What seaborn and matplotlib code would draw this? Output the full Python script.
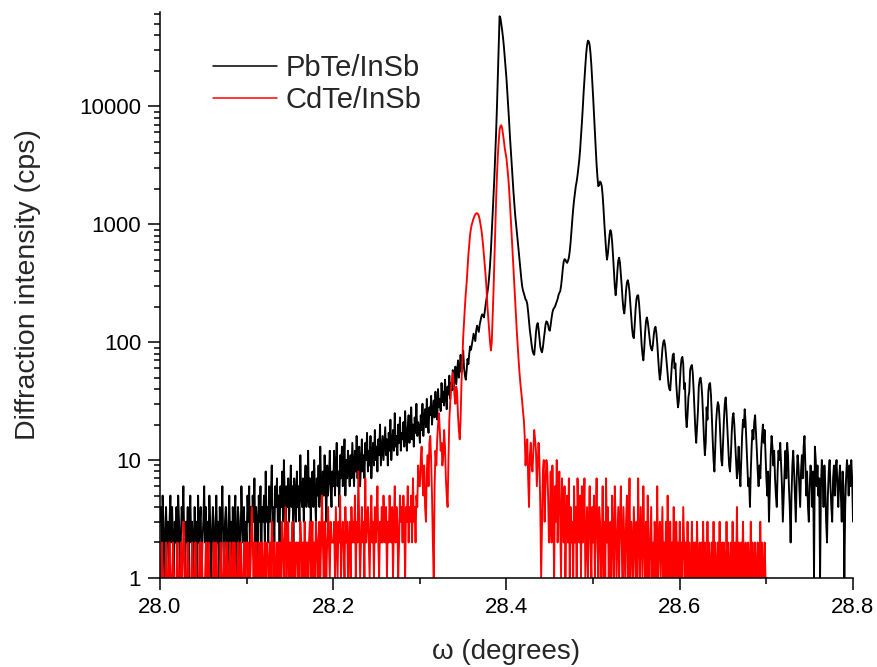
import numpy as np
import pandas as pd
import matplotlib
matplotlib.use("Agg")
import matplotlib.pyplot as plt
from matplotlib.ticker import FixedLocator, FuncFormatter, LogLocator, MultipleLocator, NullFormatter
import seaborn as sns

# omega scan: 28.000 deg onwards, 0.001 deg per step
OMEGA_START = 28.0
OMEGA_STEP = 0.001

series_names = ["PbTe/InSb", "CdTe/InSb"]
series_colors = ["black", "red"]

# PbTe/InSb counts, 28.000 .. 28.800
pbte_counts = [
    # 28.000 - 28.099
    3, 4, 2, 5, 3, 1, 2, 4, 2, 3, 1, 3, 5, 2, 4, 2, 1, 3, 2, 4,
    2, 5, 3, 1, 2, 4, 3, 6, 2, 1, 3, 2, 4, 1, 3, 5, 2, 3, 1, 2,
    4, 2, 3, 1, 5, 2, 3, 4, 1, 2, 3, 6, 2, 4, 1, 3, 2, 5, 3, 1,
    2, 4, 3, 1, 2, 5, 2, 3, 1, 4, 2, 3, 6, 2, 1, 3, 4, 2, 1, 3,
    5, 2, 3, 1, 4, 2, 3, 5, 1, 2, 4, 3, 1, 2, 6, 3, 2, 4, 1, 3,
    # 28.100 - 28.199
    2, 5, 3, 6, 1, 4, 2, 5, 3, 7, 2, 4, 3, 1, 5, 3, 6, 2, 4, 3,
    5, 2, 8, 3, 4, 2, 6, 3, 5, 9, 3, 4, 2, 6, 4, 7, 3, 5, 2, 6,
    4, 8, 3, 10, 5, 2, 6, 4, 7, 3, 5, 9, 4, 6, 2, 7, 5, 3, 8, 4,
    6, 3, 11, 5, 4, 7, 3, 6, 9, 4, 5, 12, 4, 7, 3, 6, 8, 4, 10, 5,
    3, 7, 5, 9, 4, 13, 6, 4, 8, 5, 11, 6, 3, 9, 5, 7, 12, 6, 4, 8,
    # 28.200 - 28.299
    6, 12, 5, 9, 14, 6, 8, 4, 11, 7, 13, 6, 9, 15, 5, 10, 7, 12, 8, 6,
    11, 7, 14, 9, 6, 12, 8, 16, 7, 10, 13, 6, 9, 15, 8, 11, 7, 14, 10, 17,
    8, 12, 9, 16, 7, 11, 14, 9, 18, 10, 13, 8, 15, 11, 20, 9, 12, 16, 10, 14,
    19, 11, 15, 9, 17, 12, 22, 10, 14, 18, 12, 25, 13, 16, 11, 20, 14, 23, 12, 17,
    15, 21, 13, 26, 16, 12, 19, 24, 14, 18, 28, 15, 20, 13, 23, 17, 30, 16, 21, 19,
    # 28.300 - 28.359
    14, 24, 18, 30, 16, 22, 27, 19, 33, 21, 17, 28, 24, 35, 20, 26, 32, 23, 38, 25,
    22, 40, 28, 33, 26, 45, 31, 38, 29, 48, 35, 27, 42, 36, 52, 33, 45, 39, 58, 40,
    48, 62, 44, 55, 70, 50, 60, 78, 56, 66, 85, 60, 52, 48, 58, 72, 65, 80, 92, 86,
    # 28.360 - 28.399 (main reflection)
    95, 105, 118, 110, 102, 125, 138, 130, 122, 140,
    152, 165, 172, 168, 162, 185, 210, 235, 265, 300,
    360, 450, 600, 850, 1200, 1700, 2500, 3800, 6000, 10000,
    18000, 34000, 58000, 56000, 50000, 44000, 38000, 32000, 26000, 21000,
    # 28.400 - 28.507
    17000, 13000, 10000, 7500, 5500, 4200, 3200, 2500, 1900, 1500,
    1200, 1000, 850, 720, 600, 500, 420, 350, 300, 275,
    260, 245, 230, 225, 210, 180, 150, 125, 110, 95,
    85, 80, 78, 95, 120, 138, 145, 130, 110, 92,
    85, 82, 90, 105, 120, 140, 150, 148, 140, 128,
    125, 140, 160, 178, 190, 195, 200, 210, 220, 232,
    250, 262, 270, 300, 350, 420, 480, 505, 500, 480,
    470, 490, 520, 590, 700, 880, 1100, 1350, 1600, 1850,
    2100, 2300, 2600, 3000, 3500, 4300, 5500, 7200, 9500, 13000,
    17000, 22000, 28000, 33000, 36000, 35500, 33000, 28000, 22000, 16500,
    12000, 8500, 6000, 4400, 3200, 2500, 2100, 2150,
    # 28.508 - 28.650 (thickness fringes)
    2300, 2250, 2100, 1750, 1350, 1000, 780, 600, 500, 560,
    680, 820, 890, 840, 700, 540, 400, 300, 250, 300,
    400, 490, 520, 470, 380, 300, 230, 190, 175, 210,
    275, 320, 335, 310, 265, 210, 165, 130, 112, 108,
    140, 190, 230, 248, 250, 215, 170, 125, 95, 78,
    70, 88, 120, 150, 162, 150, 130, 110, 95, 88,
    85, 95, 115, 130, 135, 120, 98, 75, 58, 48,
    55, 70, 88, 100, 104, 95, 80, 65, 52, 44,
    40, 39, 50, 66, 78, 80, 60, 66, 44, 34,
    28, 32, 44, 60, 72, 75, 66, 40, 45, 24,
    19, 24, 34, 38, 58, 62, 64, 55, 40, 27,
    18, 14, 19, 26, 42, 48, 50, 44, 34, 22,
    15, 11, 14, 28, 22, 38, 44, 45, 36, 24,
    15, 10, 8, 13, 21, 27, 31, 29, 22, 15,
    10, 9, 14,
    # 28.651 - 28.800
    22, 30, 34, 26, 18, 12, 9, 8, 11, 17, 23, 25, 20, 14, 10, 7, 9, 13, 8, 6,
    10, 16, 22, 19, 27, 21, 14, 9, 6, 7, 4, 8, 13, 18, 15, 21, 24, 17, 12, 8,
    6, 9, 7, 12, 16, 20, 14, 18, 11, 7, 5, 8, 3, 6, 11, 16, 13, 9, 12, 7,
    5, 4, 8, 12, 10, 14, 9, 6, 3, 5, 8, 12, 7, 14, 11, 6, 4, 2, 5, 9,
    12, 8, 5, 3, 7, 11, 9, 6, 4, 8, 11, 7, 13, 16, 9, 5, 8, 4, 3, 6,
    9, 7, 4, 8, 1, 13, 10, 6, 9, 5, 7, 1, 6, 10, 7, 4, 9, 6, 3, 2,
    5, 8, 10, 6, 4, 3, 7, 9, 5, 8, 10, 6, 4, 7, 9, 5, 3, 8, 6, 1,
    4, 7, 10, 8, 5, 9, 6, 10, 7, 3,
]

# CdTe/InSb counts, 28.000 .. 28.700
cdte_counts = [
    # 28.000 - 28.099
    1, 1, 2, 1, 1, 1, 1, 2, 1, 1, 1, 2, 1, 1, 1, 2, 1, 1, 1, 1,
    2, 1, 1, 1, 2, 1, 1, 3, 2, 1, 1, 1, 2, 1, 1, 1, 1, 2, 1, 1,
    1, 2, 1, 1, 1, 1, 2, 1, 2, 1, 1, 1, 1, 2, 1, 1, 2, 1, 1, 1,
    1, 1, 2, 1, 1, 2, 1, 1, 1, 1, 2, 1, 1, 1, 2, 1, 1, 2, 1, 1,
    1, 2, 1, 1, 2, 1, 2, 1, 1, 1, 2, 1, 1, 2, 1, 1, 1, 2, 1, 2,
    # 28.100 - 28.199
    2, 1, 2, 1, 1, 2, 4, 2, 1, 2, 1, 2, 1, 1, 2, 1, 2, 1, 2, 1,
    1, 2, 1, 2, 2, 1, 1, 2, 1, 3, 2, 1, 2, 1, 1, 2, 1, 2, 1, 2,
    1, 3, 2, 1, 2, 4, 1, 2, 3, 1, 2, 1, 2, 3, 1, 2, 1, 2, 2, 1,
    2, 1, 3, 2, 1, 2, 1, 3, 1, 2, 2, 1, 2, 3, 1, 2, 3, 1, 2, 1,
    3, 2, 1, 2, 3, 1, 2, 5, 2, 1, 3, 2, 1, 2, 4, 2, 1, 3, 2, 2,
    # 28.200 - 28.299
    2, 3, 1, 4, 2, 1, 3, 2, 5, 1, 2, 3, 2, 1, 4, 2, 3, 1, 2, 3,
    1, 4, 2, 3, 2, 5, 1, 3, 2, 8, 3, 1, 2, 4, 2, 3, 1, 7, 2, 3,
    4, 2, 1, 3, 5, 2, 3, 1, 4, 2, 3, 6, 2, 1, 3, 2, 4, 2, 5, 3,
    2, 4, 1, 3, 2, 5, 3, 2, 4, 1, 3, 6, 2, 4, 3, 1, 2, 5, 3, 4,
    2, 5, 3, 1, 4, 3, 6, 2, 4, 3, 5, 2, 7, 3, 4, 2, 5, 4, 9, 6,
    # 28.300 - 28.359
    6, 10, 13, 7, 5, 9, 4, 3, 8, 11, 6, 14, 16, 10, 5, 2, 1, 6, 12, 9,
    15, 20, 25, 18, 12, 14, 9, 11, 18, 13, 7, 5, 4, 10, 22, 30, 42, 48, 55, 45,
    35, 30, 42, 38, 24, 18, 15, 22, 45, 70, 110, 150, 200, 260, 320, 420, 550, 680, 820, 920,
    # 28.360 - 28.399 (CdTe layer and InSb substrate peaks)
    1000, 1060, 1120, 1170, 1210, 1235, 1240, 1220, 1180, 1100,
    1000, 900, 780, 660, 540, 440, 360, 280, 200, 160,
    130, 100, 85, 100, 160, 270, 500, 900, 1600, 2600,
    3800, 5000, 6300, 6800, 6900, 6500, 5800, 5100, 4400, 4000,
    # 28.400 - 28.449
    3600, 3000, 2500, 2000, 1500, 1100, 800, 580, 420, 310,
    230, 160, 120, 90, 70, 55, 45, 38, 32, 26,
    22, 16, 9, 13, 15, 7, 4, 11, 14, 9,
    8, 12, 18, 15, 12, 6, 9, 14, 10, 4,
    1, 3, 8, 10, 3, 6, 10, 9, 5, 2,
    # 28.450 - 28.549
    3, 8, 2, 9, 4, 1, 6, 3, 10, 2, 5, 8, 3, 1, 7, 4, 2, 6, 1, 3,
    5, 2, 7, 1, 4, 2, 3, 1, 6, 2, 4, 1, 7, 3, 2, 5, 1, 6, 2, 3,
    7, 1, 2, 4, 1, 3, 6, 2, 1, 4, 2, 5, 1, 3, 7, 2, 1, 4, 3, 1,
    2, 6, 1, 3, 1, 7, 2, 4, 1, 2, 3, 1, 5, 2, 1, 6, 3, 1, 2, 4,
    1, 3, 6, 2, 1, 4, 2, 1, 3, 5, 1, 2, 7, 1, 3, 2, 1, 4, 2, 1,
    # 28.550 - 28.649
    3, 1, 7, 2, 1, 4, 2, 1, 6, 2, 1, 3, 1, 5, 2, 1, 2, 4, 1, 2,
    1, 3, 2, 1, 6, 1, 2, 3, 1, 2, 4, 1, 2, 1, 3, 1, 5, 2, 1, 3,
    1, 2, 1, 4, 1, 2, 3, 1, 2, 1, 3, 1, 2, 1, 4, 2, 1, 2, 1, 3,
    1, 2, 1, 1, 3, 1, 2, 1, 2, 1, 3, 1, 1, 2, 1, 2, 1, 3, 1, 2,
    1, 1, 3, 1, 2, 1, 1, 2, 1, 3, 1, 2, 1, 1, 2, 1, 3, 1, 1, 2,
    # 28.650 - 28.700
    1, 2, 1, 1, 3, 1, 2, 1, 1, 2, 1, 3, 1, 1, 2, 1, 4, 1, 2, 1,
    1, 2, 1, 3, 1, 1, 2, 1, 1, 2, 1, 1, 3, 1, 2, 1, 1, 2, 1, 1,
    2, 1, 1, 3, 1, 2, 1, 1, 2, 1, 1,
]

x_ticks = [28.0, 28.2, 28.4, 28.6, 28.8]
y_ticks = [1, 10, 100, 1000, 10000]

assert len(pbte_counts) == 801, len(pbte_counts)
assert len(cdte_counts) == 701, len(cdte_counts)


def scan_frame(counts, name):
    omega = OMEGA_START + OMEGA_STEP * np.arange(len(counts))
    return pd.DataFrame({"omega": omega, "counts": counts, "sample": name})


df = pd.concat([scan_frame(pbte_counts, series_names[0]),
                scan_frame(cdte_counts, series_names[1])], ignore_index=True)

sns.set_style("ticks")
plt.rcParams["font.family"] = ["Liberation Sans", "DejaVu Sans"]

fig = plt.figure(figsize=(8.77, 6.67), dpi=100)
ax = fig.add_axes([160 / 877, 1 - 578 / 667, 693 / 877, 566 / 667])

sns.lineplot(data=df, x="omega", y="counts", hue="sample", hue_order=series_names,
             palette=dict(zip(series_names, series_colors)), estimator=None,
             linewidth=1.35, ax=ax)

ax.set_yscale("log")
ax.set_xlim(28.0, 28.8)
ax.set_ylim(1, 63000)

ax.xaxis.set_major_locator(FixedLocator(x_ticks))
ax.xaxis.set_minor_locator(MultipleLocator(0.1))
ax.xaxis.set_major_formatter(FuncFormatter(lambda v, _: f"{v:.1f}"))
ax.yaxis.set_major_locator(FixedLocator(y_ticks))
ax.yaxis.set_minor_locator(LogLocator(base=10, subs=np.arange(2, 10)))
ax.yaxis.set_major_formatter(FuncFormatter(lambda v, _: f"{int(round(v))}"))
ax.yaxis.set_minor_formatter(NullFormatter())

ax.tick_params(axis="both", which="major", direction="out", length=8.5, width=1.1,
               labelsize=16, color="black", labelcolor="black")
ax.tick_params(axis="both", which="minor", direction="out", length=4.5, width=1.1,
               color="black")
ax.tick_params(axis="x", which="major", pad=5)
ax.tick_params(axis="y", which="major", pad=5)

sns.despine(ax=ax)
for side in ("left", "bottom"):
    ax.spines[side].set_linewidth(1.1)
    ax.spines[side].set_color("black")

ax.set_xlabel("\u03c9 (degrees)", fontsize=20, labelpad=15)
ax.set_ylabel("Diffraction intensity (cps)", fontsize=20.5)
ax.yaxis.set_label_coords(-0.172, 0.518)

handles, labels = ax.get_legend_handles_labels()
ax.legend(handles, labels, loc="upper left", bbox_to_anchor=(0.0765, 0.925),
          frameon=False, fontsize=21, handlelength=2.2, handletextpad=0.28,
          labelspacing=0.12, borderpad=0, borderaxespad=0)
for line in ax.get_legend().get_lines():
    line.set_linewidth(1.1)

fig.savefig("out.png", dpi=100)
